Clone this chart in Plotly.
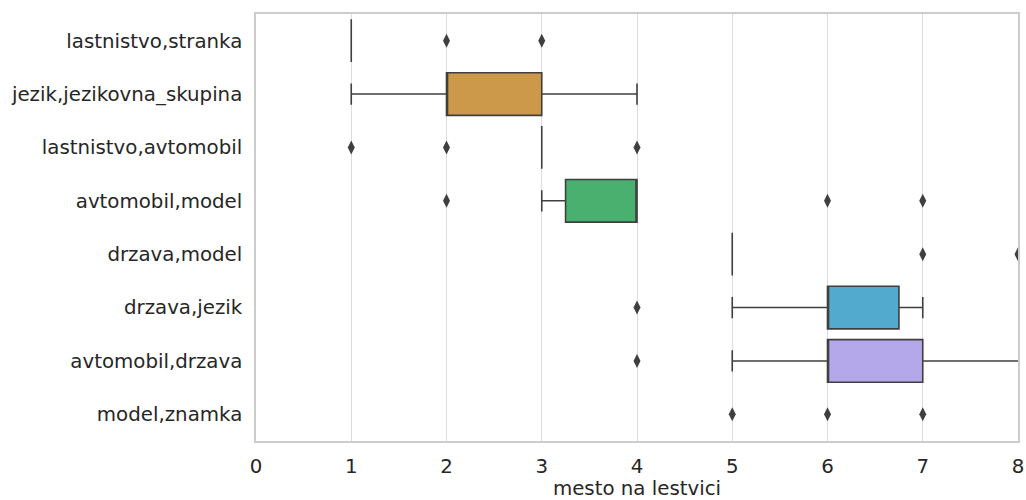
import plotly.graph_objects as go

categories = ["lastnistvo,stranka", "jezik,jezikovna_skupina", "lastnistvo,avtomobil",
              "avtomobil,model", "drzava,model", "drzava,jezik", "avtomobil,drzava", "model,znamka"]
q1 = [1, 2, 3, 3.25, 5, 6, 6, 9]
median = [1, 2, 3, 4, 5, 6, 6, 9]
q3 = [1, 3, 3, 4, 5, 6.75, 7, 9]
lower_whisker = [1, 1, 3, 3, 5, 5, 5, 9]
upper_whisker = [1, 4, 3, 4, 5, 7, 9, 9]
outliers = [[2, 3], [], [1, 2, 4], [2, 6, 7], [7, 8], [4], [4], [5, 6, 7]]
colors = ["#e6a0a8", "#cc984a", "#9fb05a", "#49b06f", "#3fae9e", "#52abcf", "#b4a7ea", "#e48bd6"]
x_ticks = [0, 1, 2, 3, 4, 5, 6, 7, 8]
x_title = "mesto na lestvici"

edge = "#3f3f3f"
fs = 19.8
fig = go.Figure()
for i, c in enumerate(categories):
    fig.add_trace(go.Box(
        y=[c], q1=[q1[i]], median=[median[i]], q3=[q3[i]],
        lowerfence=[lower_whisker[i]], upperfence=[upper_whisker[i]],
        orientation="h", fillcolor=colors[i], line=dict(color=edge, width=1.6),
        width=0.8, whiskerwidth=0.5, boxpoints=False, showlegend=False, hoverinfo="skip"))

ox, oy = [], []
for i, c in enumerate(categories):
    for v in outliers[i]:
        ox.append(v)
        oy.append(c)
fig.add_trace(go.Scatter(x=ox, y=oy, mode="markers", showlegend=False,
                         marker=dict(symbol="diamond-tall", size=10, color=edge)))

fig.update_layout(
    width=1026, height=500, plot_bgcolor="white", paper_bgcolor="white",
    margin=dict(l=256, r=8, t=14, b=59), boxmode="overlay",
    font=dict(family="DejaVu Sans", size=fs, color="#262626"),
)
fig.update_xaxes(range=[0, 8], tickvals=x_ticks, showgrid=True, gridcolor="#dcdcdc", gridwidth=1,
                 zeroline=False, showline=True, linecolor="#cccccc", linewidth=1.5, mirror=True,
                 ticks="", automargin=False, ticklabelstandoff=6,
                 title=dict(text=x_title, font=dict(size=fs)), tickfont=dict(size=fs))
fig.update_yaxes(categoryorder="array", categoryarray=categories, range=[7.5, -0.5],
                 showgrid=False, zeroline=False, showline=True, linecolor="#cccccc", linewidth=1.5,
                 mirror=True, ticks="", automargin=False, ticklabelstandoff=8, tickfont=dict(size=fs))
fig.write_html("out.html", config={"displayModeBar": False},
               post_script="document.body.style.margin='0';document.body.style.overflow='hidden';")
